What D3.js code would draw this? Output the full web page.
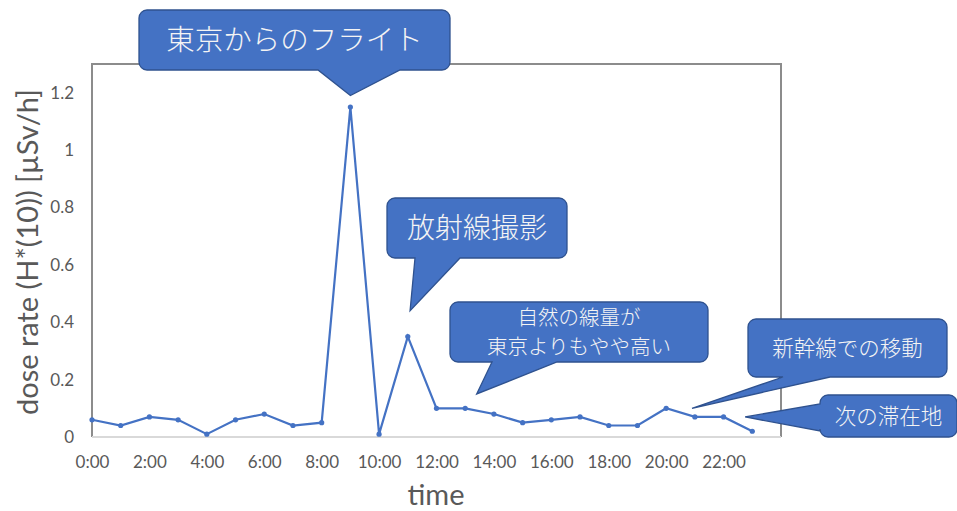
<!doctype html>
<html>
<head>
  <meta charset="utf-8">
  <title>dose rate</title>
  <style>
    body { margin: 0; background: #fff; }
  </style>
</head>
<body>
  <div class="graphContainer"></div>
  <script src="https://cdn.jsdelivr.net/npm/d3@7"></script>
  <script>

// hourly readings
var hours = [0, 1, 2, 3, 4, 5, 6, 7, 8, 9, 10, 11, 12, 13, 14, 15, 16, 17, 18, 19, 20, 21, 22, 23];
var doseRate = [0.06, 0.04, 0.07, 0.06, 0.01, 0.06, 0.08, 0.04, 0.05, 1.15, 0.01, 0.35,
                0.10, 0.10, 0.08, 0.05, 0.06, 0.07, 0.04, 0.04, 0.10, 0.07, 0.07, 0.02];
var tickHours = [0, 2, 4, 6, 8, 10, 12, 14, 16, 18, 20, 22];
var tickLabels = ["0:00", "2:00", "4:00", "6:00", "8:00", "10:00", "12:00", "14:00", "16:00", "18:00", "20:00", "22:00"];
var yTicks = [0, 0.2, 0.4, 0.6, 0.8, 1, 1.2];

// annotation texts and where they point (hour, value)
var noteTexts = [["東京からのフライト"], ["放射線撮影"], ["自然の線量が", "東京よりもやや高い"], ["新幹線での移動"], ["次の滞在地"]];
var noteTargets = [[9, 1.19], [11.08, 0.44], [13.4, 0.15], [20.9, 0.10], [22.75, 0.07]];

function drawChart() {
    var w = 957, h = 511;
    var left = 92, right = 781, top = 64, bottom = 437;

    var svg = d3.select(".graphContainer")
        .append("svg")
        .attr("width", w)
        .attr("height", h);

    var x = d3.scaleLinear().domain([0, 24]).range([left, right]);
    var y = d3.scaleLinear().domain([0, 1.3]).range([bottom, top]);

    var gray = "#595959";

    // plot frame
    svg.append("path")
        .attr("d", `M${left},${bottom}V${top}H${right}V${bottom}`)
        .attr("fill", "none")
        .attr("stroke", "#8c8c8c")
        .attr("stroke-width", 2);
    svg.append("line")
        .attr("x1", left).attr("x2", right)
        .attr("y1", bottom).attr("y2", bottom)
        .attr("stroke", "#d9d9d9")
        .attr("stroke-width", 2);

    // y axis
    var yAxis = d3.axisLeft(y)
        .tickValues(yTicks)
        .tickSize(0)
        .tickPadding(18)
        .tickFormat(d3.format("~g"));
    var gy = svg.append("g")
        .attr("transform", `translate(${left},0)`)
        .call(yAxis);
    gy.select(".domain").remove();
    gy.selectAll("text")
        .attr("fill", gray)
        .style("font-family", "Lato, 'Open Sans', sans-serif")
        .style("font-size", "17px");

    // x axis
    var xAxis = d3.axisBottom(x)
        .tickValues(tickHours)
        .tickSize(0)
        .tickPadding(19)
        .tickFormat(function(d, i) { return tickLabels[i]; });
    var gx = svg.append("g")
        .attr("transform", `translate(0,${bottom})`)
        .call(xAxis);
    gx.select(".domain").remove();
    gx.selectAll("text")
        .attr("fill", gray)
        .style("font-family", "Lato, 'Open Sans', sans-serif")
        .style("font-size", "17px");

    // axis titles
    svg.append("text")
        .attr("transform", `translate(38,252) rotate(-90)`)
        .attr("text-anchor", "middle")
        .attr("fill", gray)
        .style("font-family", "Lato, 'Open Sans', sans-serif")
        .style("font-size", "29px")
        .text("dose rate (H*(10)) [µSv/h]");
    svg.append("text")
        .attr("x", 436).attr("y", 505)
        .attr("text-anchor", "middle")
        .attr("fill", gray)
        .style("font-family", "Lato, 'Open Sans', sans-serif")
        .style("font-size", "29px")
        .text("time");

    // line + markers
    var line = d3.line()
        .x(function(d, i) { return x(hours[i]); })
        .y(function(d) { return y(d); });
    svg.append("path")
        .datum(doseRate)
        .attr("d", line)
        .attr("fill", "none")
        .attr("stroke", "#4472c4")
        .attr("stroke-width", 2.2);
    svg.selectAll(".pt")
        .data(doseRate)
        .enter().append("circle")
        .attr("class", "pt")
        .attr("cx", function(d, i) { return x(hours[i]); })
        .attr("cy", function(d) { return y(d); })
        .attr("r", 2.6)
        .attr("fill", "#4472c4");

    // callout boxes
    var boxes = [
        {x0: 139, y0: 10, x1: 450, y1: 70, side: "bottom", a: 318, b: 400, fs: 28.5},
        {x0: 387, y0: 198, x1: 567, y1: 258, side: "bottom", a: 415, b: 460, fs: 28},
        {x0: 450, y0: 302, x1: 708, y1: 362, side: "bottom", a: 492, b: 557, fs: 20.5},
        {x0: 748, y0: 319, x1: 947, y1: 377, side: "bottom", a: 783, b: 830, fs: 21.5},
        {x0: 820, y0: 395, x1: 957, y1: 437, side: "left", a: 404, b: 431, fs: 21.5}
    ];

    boxes.forEach(function(bx, k) {
        var r = 8;
        var tx = x(noteTargets[k][0]), ty = y(noteTargets[k][1]);
        var p = d3.path();
        p.moveTo(bx.x0 + r, bx.y0);
        p.lineTo(bx.x1 - r, bx.y0);
        p.arcTo(bx.x1, bx.y0, bx.x1, bx.y0 + r, r);
        p.lineTo(bx.x1, bx.y1 - r);
        p.arcTo(bx.x1, bx.y1, bx.x1 - r, bx.y1, r);
        if (bx.side === "bottom") {
            p.lineTo(bx.b, bx.y1);
            p.lineTo(tx, ty);
            p.lineTo(bx.a, bx.y1);
        }
        p.lineTo(bx.x0 + r, bx.y1);
        p.arcTo(bx.x0, bx.y1, bx.x0, bx.y1 - r, r);
        if (bx.side === "left") {
            p.lineTo(bx.x0, bx.b);
            p.lineTo(tx, ty);
            p.lineTo(bx.x0, bx.a);
        }
        p.lineTo(bx.x0, bx.y0 + r);
        p.arcTo(bx.x0, bx.y0, bx.x0 + r, bx.y0, r);
        p.closePath();

        svg.append("path")
            .attr("d", p.toString())
            .attr("fill", "#4472c4")
            .attr("stroke", "#2f528f")
            .attr("stroke-width", 1.3);

        var lines = noteTexts[k];
        var cx = (bx.x0 + bx.x1) / 2, cy = (bx.y0 + bx.y1) / 2;
        var lh = bx.fs * 1.45;
        lines.forEach(function(t, j) {
            svg.append("text")
                .attr("x", cx)
                .attr("y", cy + (j - (lines.length - 1) / 2) * lh)
                .attr("dy", "0.36em")
                .attr("text-anchor", "middle")
                .attr("fill", "#f4f4f4")
                .style("font-family", "'Noto Sans CJK JP', sans-serif")
                .style("font-weight", 300)
                .style("font-size", bx.fs + "px")
                .text(t);
        });
    });
}

drawChart();

  </script>
</body>
</html>
